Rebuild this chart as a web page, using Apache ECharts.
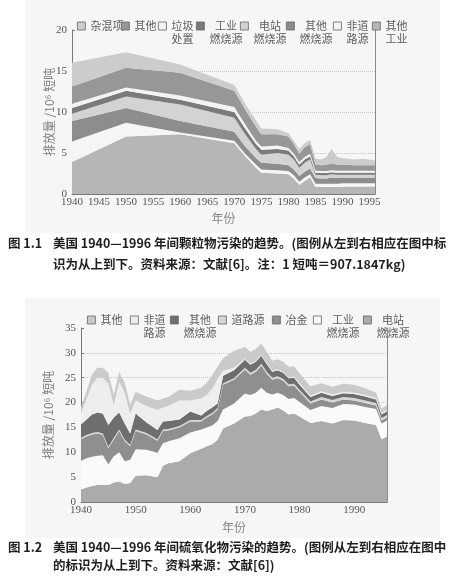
<!DOCTYPE html>
<html>
<head>
<meta charset="utf-8">
<script src="https://cdn.jsdelivr.net/npm/echarts@6/dist/echarts.min.js"></script>
<style>
  html, body { margin: 0; padding: 0; background: #fff; }
  #chart { width: 458px; height: 585px; }
</style>
</head>
<body>
<div id="chart"></div>
<script>
// 图 1.1 颗粒物（10^6 短吨），各年份为图上读到的折点
const pmYears = [1940, 1950, 1960, 1970, 1972, 1974, 1975, 1978, 1980, 1981, 1982, 1983, 1984, 1985, 1986, 1987, 1988, 1989, 1990, 1992, 1994, 1996]
const pmOtherIndustry = [3.9, 7.0, 7.3, 6.2, 4.6, 3.2, 2.6, 2.5, 2.4, 1.9, 1.1, 1.6, 2.0, 0.85, 0.85, 0.85, 0.85, 0.85, 0.9, 0.9, 0.9, 0.9]
const pmNonroad = [2.5, 1.7, 0.2, 0.3, 0.3, 0.4, 0.4, 0.4, 0.4, 0.4, 0.4, 0.4, 0.4, 0.4, 0.4, 0.4, 0.4, 0.4, 0.4, 0.4, 0.4, 0.4]
const pmOtherCombustion = [2.5, 1.8, 1.4, 1.1, 0.9, 0.8, 0.8, 0.8, 0.7, 0.7, 0.7, 0.7, 0.7, 0.7, 0.65, 0.65, 0.75, 0.7, 0.65, 0.65, 0.65, 0.65]
const pmPowerPlant = [0.9, 1.4, 2.0, 1.7, 1.5, 1.1, 1.0, 1.3, 1.3, 1.2, 1.0, 1.1, 1.1, 0.4, 0.4, 0.4, 0.4, 0.4, 0.4, 0.4, 0.4, 0.4]
const pmIndustrialCombustion = [0.7, 0.7, 0.6, 0.7, 0.7, 0.6, 0.6, 0.5, 0.5, 0.4, 0.4, 0.4, 0.4, 0.25, 0.25, 0.25, 0.25, 0.25, 0.25, 0.25, 0.25, 0.25]
const pmWaste = [0.5, 0.4, 0.5, 0.6, 0.5, 0.4, 0.4, 0.4, 0.3, 0.3, 0.3, 0.3, 0.3, 0.25, 0.25, 0.25, 0.25, 0.25, 0.25, 0.25, 0.25, 0.25]
const pmOther = [2.1, 2.4, 2.8, 2.0, 1.8, 1.7, 1.5, 1.4, 1.4, 1.2, 1.0, 1.2, 1.2, 0.75, 0.7, 0.8, 0.8, 0.75, 0.75, 0.65, 0.65, 0.65]
const pmMisc = [2.9, 1.9, 1.0, 0.7, 0.7, 0.8, 0.7, 0.6, 0.4, 0.4, 0.6, 0.5, 0.5, 0.7, 0.7, 0.9, 1.8, 0.9, 0.8, 0.7, 0.8, 0.6]

// 图 1.2 硫氧化物（10^6 短吨）
const soYears = [1940, 1941, 1942, 1943, 1944, 1945, 1946, 1947, 1948, 1949, 1950, 1952, 1954, 1955, 1956, 1958, 1960, 1962, 1963, 1964, 1965, 1966, 1968, 1970, 1971, 1972, 1973, 1974, 1975, 1976, 1977, 1978, 1979, 1980, 1982, 1984, 1986, 1988, 1990, 1992, 1994, 1995, 1996]
const soPowerPlant = [2.5, 2.9, 3.2, 3.4, 3.4, 3.4, 3.9, 4.1, 3.6, 3.8, 5.3, 5.4, 5.0, 7.3, 7.8, 8.2, 9.8, 10.7, 11.2, 11.6, 12.5, 14.8, 15.8, 17.2, 17.3, 17.8, 18.6, 18.3, 18.6, 19.0, 18.4, 17.6, 17.8, 17.2, 15.9, 16.3, 15.8, 16.5, 16.4, 15.9, 15.5, 12.6, 13.2]
const soIndustrialCombustion = [5.8, 5.9, 5.9, 5.9, 6.0, 4.2, 5.3, 5.9, 4.6, 4.7, 5.3, 5.1, 4.9, 4.5, 4.4, 4.6, 4.2, 3.9, 3.8, 3.8, 3.8, 3.8, 4.0, 4.6, 4.2, 4.2, 4.4, 3.7, 3.0, 3.0, 3.1, 3.1, 3.1, 2.9, 2.6, 3.0, 3.1, 3.2, 3.2, 3.2, 3.2, 3.2, 3.2]
const soMetals = [4.3, 4.4, 4.5, 4.5, 4.1, 3.2, 3.4, 4.3, 4.0, 2.7, 3.7, 3.1, 2.4, 2.5, 2.2, 2.2, 2.2, 1.6, 2.0, 2.2, 2.3, 5.0, 4.8, 4.8, 4.1, 4.2, 4.4, 3.8, 3.0, 2.9, 2.9, 2.6, 2.5, 2.1, 1.3, 1.3, 1.1, 0.9, 0.8, 0.8, 0.7, 0.6, 0.6]
const soRoad = [0.3, 0.3, 0.3, 0.3, 0.3, 0.3, 0.3, 0.3, 0.3, 0.3, 0.3, 0.3, 0.3, 0.3, 0.3, 0.3, 0.3, 0.3, 0.3, 0.3, 0.3, 0.3, 0.3, 0.4, 0.4, 0.4, 0.4, 0.4, 0.4, 0.4, 0.4, 0.4, 0.4, 0.4, 0.4, 0.5, 0.5, 0.5, 0.5, 0.5, 0.5, 0.5, 0.5]
const soOtherCombustion = [2.7, 3.1, 3.7, 3.9, 4.0, 4.4, 4.1, 3.4, 3.3, 2.3, 3.2, 2.1, 1.9, 1.6, 1.6, 1.3, 1.7, 0.9, 1.0, 1.1, 0.9, 1.5, 1.6, 1.6, 1.6, 1.6, 1.6, 1.5, 1.2, 1.2, 1.2, 1.2, 1.2, 1.0, 0.9, 0.9, 0.8, 0.8, 0.8, 0.8, 0.7, 0.7, 0.7]
const soNonroad = [2.4, 4.0, 6.0, 7.0, 7.2, 8.3, 2.5, 6.2, 6.2, 3.9, 2.6, 3.3, 4.0, 2.8, 3.0, 3.8, 2.2, 3.4, 3.2, 3.8, 5.0, 1.0, 0.5, 0.2, 0.2, 0.2, 0.2, 0.2, 0.2, 0.2, 0.2, 0.2, 0.2, 0.3, 0.3, 0.3, 0.3, 0.3, 0.3, 0.3, 0.3, 0.3, 0.3]
const soOther = [1.0, 1.7, 2.0, 2.0, 2.0, 2.2, 2.0, 2.0, 2.0, 1.8, 1.8, 1.9, 1.9, 1.8, 1.8, 2.2, 2.0, 2.2, 2.5, 2.7, 2.4, 2.5, 3.4, 2.4, 2.4, 2.4, 2.3, 2.3, 2.0, 2.0, 2.0, 2.1, 2.1, 2.0, 1.9, 1.6, 1.6, 1.6, 1.6, 1.4, 1.1, 0.9, 1.0]

// 图例文字（从左到右）
const pmLabels = ['杂混项', '其他', '垃圾\n处置', '工业\n燃烧源', '电站\n燃烧源', '其他\n燃烧源', '非道\n路源', '其他\n工业']
const soLabels = ['其他', '非道\n路源', '其他\n燃烧源', '道路源', '冶金', '工业\n燃烧源', '电站\n燃烧源']

const CJK = '"Noto Sans CJK SC", sans-serif'
const SERIF = '"Liberation Serif", serif'

const chart = echarts.init(document.getElementById('chart'))

// 数据项写成 [数值, 年份]，让堆叠作用在数值维度上
function areaSeries(name, years, values, color, stack, idx) {
  return {
    name, type: 'line', stack, xAxisIndex: idx, yAxisIndex: idx * 2,
    data: years.map((y, i) => [values[i], y]),
    encode: { x: 1, y: 0 },
    symbol: 'none',
    color,
    lineStyle: { width: 0 },
    areaStyle: { color, opacity: 1 },
    emphasis: { disabled: true },
    silent: true
  }
}

// 从下到上堆叠
const pmStack = [
  ['颗粒物 其他工业', pmOtherIndustry, '#b6b6b6'],
  ['颗粒物 非道路源', pmNonroad, '#f5f5f5'],
  ['颗粒物 其他燃烧源', pmOtherCombustion, '#8d8d8d'],
  ['颗粒物 电站燃烧源', pmPowerPlant, '#d3d3d3'],
  ['颗粒物 工业燃烧源', pmIndustrialCombustion, '#7b7b7b'],
  ['颗粒物 垃圾处置', pmWaste, '#f3f3f3'],
  ['颗粒物 其他', pmOther, '#979797'],
  ['颗粒物 杂混项', pmMisc, '#cccccc']
]
const soStack = [
  ['硫 电站燃烧源', soPowerPlant, '#ababab'],
  ['硫 工业燃烧源', soIndustrialCombustion, '#fafafa'],
  ['硫 冶金', soMetals, '#8f8f8f'],
  ['硫 道路源', soRoad, '#d6d6d6'],
  ['硫 其他燃烧源', soOtherCombustion, '#6e6e6e'],
  ['硫 非道路源', soNonroad, '#eeeeee'],
  ['硫 其他', soOther, '#cacaca']
]

const series = [
  ...pmStack.map(s => areaSeries(s[0], pmYears, s[1], s[2], 'pm', 0)),
  ...soStack.map(s => areaSeries(s[0], soYears, s[1], s[2], 'so', 1))
]

// 每个图例项单独定位
function legendItem(name, label, left, rowY) {
  const lines = label.split('\n')
  const two = lines.length > 1
  return {
    left, top: two ? rowY - 19.5 : rowY - 6.5,
    padding: 0, itemGap: 0,
    itemWidth: 8, itemHeight: 8,
    selectedMode: false,
    data: [{ name, icon: 'rect' }],
    itemStyle: { borderColor: '#666', borderWidth: 0.8 },
    formatter: () => lines.map(s => '{c|' + s + '}').join('\n'),
    textStyle: {
      color: '#5c5c5c', fontFamily: CJK, fontSize: 11, lineHeight: 13,
      padding: two ? [13, 0, 0, 0] : 0,
      rich: { c: { align: 'center', color: '#5c5c5c', fontFamily: CJK, fontSize: 11, lineHeight: 13 } }
    }
  }
}

const pmLegendX = [77, 121, 158, 196, 240, 286, 333, 372]
const soLegendX = [87, 130, 170, 218, 272, 313, 363]
const pmNamesTopDown = pmStack.map(s => s[0]).reverse()
const soNamesTopDown = soStack.map(s => s[0]).reverse()

const legend = [
  ...pmLabels.map((l, i) => legendItem(pmNamesTopDown[i], l, pmLegendX[i], 26)),
  ...soLabels.map((l, i) => legendItem(soNamesTopDown[i], l, soLegendX[i], 320))
]

const axisColor = '#7a7a7a'
function xAxis(grid, step) {
  return {
    gridIndex: grid, type: 'value', min: 1940, max: 1996, interval: step,
    axisLine: { lineStyle: { color: axisColor } },
    axisTick: { show: false },
    splitLine: { show: false },
    axisLabel: {
      formatter: v => (v % step === 0 ? String(v) : ''),
      showMaxLabel: false,
      color: '#555', fontFamily: SERIF, fontSize: 11, margin: 3
    },
    name: '年份', nameLocation: 'middle', nameGap: grid === 0 ? 18 : 19, nameMoveOverlap: false,
    nameTextStyle: { fontFamily: CJK, fontSize: 12, color: '#888' }
  }
}
function yAxisLeft(grid, max, gap) {
  return {
    gridIndex: grid, type: 'value', min: 0, max, interval: 5,
    axisLine: { show: true, lineStyle: { color: axisColor } },
    axisTick: { show: true, inside: true, length: 3, lineStyle: { color: axisColor } },
    axisLabel: { color: '#555', fontFamily: SERIF, fontSize: 11, margin: 5 },
    splitLine: { show: true, showMinLine: false, showMaxLine: false, lineStyle: { color: '#c4c4c4', type: 'dotted' } },
    name: '排放量 /10⁶ 短吨', nameLocation: 'middle', nameRotate: 90, nameGap: gap, nameMoveOverlap: false,
    nameTextStyle: { fontFamily: CJK, fontSize: 12, color: '#808080' }
  }
}
function yAxisRight(grid, max) {
  return {
    gridIndex: grid, type: 'value', min: 0, max, position: 'right',
    axisLine: { show: true, lineStyle: { color: '#8a8a8a' } },
    axisTick: { show: false }, axisLabel: { show: false }, splitLine: { show: false }
  }
}

const capFont = 'bold 12.5px "Noto Sans CJK SC", sans-serif'
function caption(x, y, text) {
  return { type: 'text', x, y, silent: true, style: { text, font: capFont, fill: '#1e1e1e', verticalAlign: 'middle' } }
}

chart.setOption({
  animation: false,
  backgroundColor: '#ffffff',
  grid: [
    { left: 72, top: 30, width: 303, height: 164, outerBoundsMode: 'none' },
    { left: 81, top: 328, width: 306, height: 174, outerBoundsMode: 'none' }
  ],
  xAxis: [xAxis(0, 5), xAxis(1, 10)],
  yAxis: [yAxisLeft(0, 20, 17), yAxisRight(0, 20), yAxisLeft(1, 35, 27), yAxisRight(1, 35)],
  legend,
  series,
  graphic: [
    { type: 'rect', z: -10, silent: true, shape: { x: 25, y: 0, width: 415, height: 233 }, style: { fill: '#f6f6f6' } },
    { type: 'rect', z: -10, silent: true, shape: { x: 25, y: 298, width: 415, height: 240 }, style: { fill: '#f6f6f6' } },
    caption(8, 243, '图 1.1'),
    caption(53, 243, '美国 1940—1996 年间颗粒物污染的趋势。(图例从左到右相应在图中标'),
    caption(53, 264, '识为从上到下。资料来源：文献[6]。注：1 短吨＝907.1847kg)'),
    caption(8, 547, '图 1.2'),
    caption(53, 547, '美国 1940—1996 年间硫氧化物污染的趋势。(图例从左到右相应在图中'),
    caption(53, 565, '的标识为从上到下。资料来源：文献[6])')
  ]
})
</script>
</body>
</html>
